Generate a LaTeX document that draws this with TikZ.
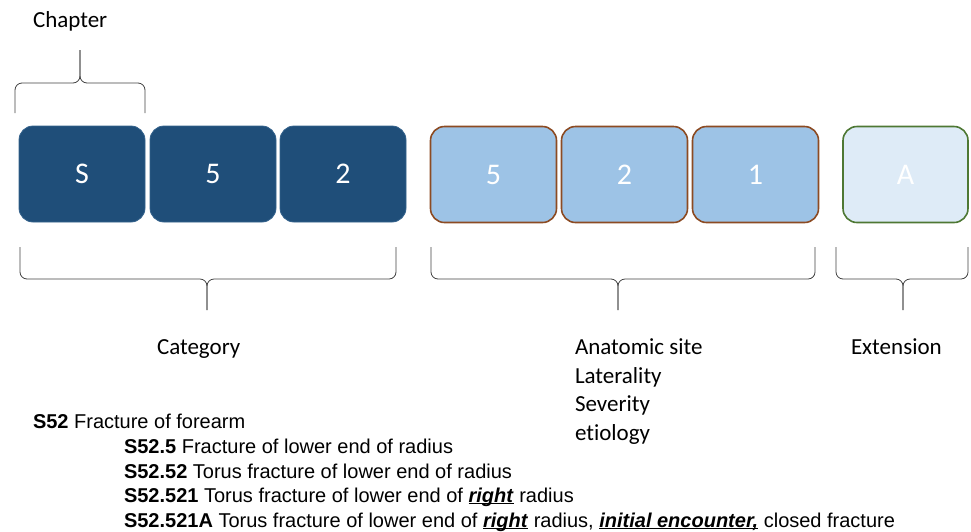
\documentclass[tikz,border=0pt]{standalone}
\usepackage{fontspec}
\setmainfont{Carlito}[Ligatures=NoCommon]
\newfontfamily\arialfont{Liberation Sans}
\usetikzlibrary{positioning}
\definecolor{chapfill}{RGB}{31,78,121}
\definecolor{chapline}{RGB}{52,98,140}
\definecolor{sitefill}{RGB}{157,195,230}
\definecolor{siteline}{RGB}{140,75,35}
\definecolor{extfill}{RGB}{222,235,247}
\definecolor{extline}{RGB}{78,120,52}
\definecolor{bracegray}{RGB}{64,64,64}
\newcommand{\hl}[1]{\underline{\smash{\textbf{\textit{#1}}}}}

\begin{document}
\begin{tikzpicture}[
  x=1pt, y=-1pt,
  every node/.style={inner sep=0pt, outer sep=0pt},
  codebox/.style={rectangle, rounded corners=14pt, minimum width=126pt,
    minimum height=96pt, font=\fontsize{30}{36}\selectfont, text=white},
  chapbox/.style={codebox, fill=chapfill, draw=chapline, line width=0.8pt},
  sitebox/.style={codebox, fill=sitefill, draw=siteline, line width=1.6pt},
  extbox/.style={codebox, fill=extfill, draw=extline, line width=1.6pt},
  label/.style={anchor=base west, font=\fontsize{23}{28}\selectfont},
  code/.style={anchor=base west, font=\arialfont\fontsize{20}{24}\selectfont},
  brace/.style={draw=bracegray, line width=0.8pt, rounded corners=7pt}
]
\useasboundingbox (0,0) rectangle (971,531);

% code characters
\node[chapbox] (s) at (82,174) {S};
\node[chapbox, right=5pt of s] (c5) {5};
\node[chapbox, right=4pt of c5] (c2) {2};
\node[sitebox] (s5) at (493.5,174.5) {5};
\node[sitebox, right=5pt of s5] (s2) {2};
\node[sitebox, right=5pt of s2] (s1) {1};
\node[extbox, minimum width=125pt] (ext) at (905.5,174.5) {A};

% braces
\coordinate (chaptip) at (80,50);
\draw[brace] (15,113) -- (15,83) -- (80,83) -- (chaptip);
\draw[brace] (145,113) -- (145,83) -- (80,83) -- (chaptip);
\coordinate (cattip) at (207,310);
\draw[brace] (20,247) -- (20,279) -- (207,279) -- (cattip);
\draw[brace] (396,247) -- (396,279) -- (207,279) -- (cattip);
\coordinate (sitetip) at (618,310);
\draw[brace] (431,247) -- (431,279) -- (618,279) -- (sitetip);
\draw[brace] (815,247) -- (815,279) -- (618,279) -- (sitetip);
\coordinate (exttip) at (903,310);
\draw[brace] (836,247) -- (836,279) -- (903,279) -- (exttip);
\draw[brace] (968,247) -- (968,279) -- (903,279) -- (exttip);

% labels
\node[label] (chapter) at (33,27) {Chapter};
\node[label] (category) at (157,354) {Category};
\node[label] (site) at (575,354) {Anatomic site};
\node[label] (lat) at (575,383) {Laterality};
\node[label] (sev) at (575,411) {Severity};
\node[label] (etio) at (575,440) {etiology};
\node[label] (extension) at (851,354) {Extension};

% example codes
\node[code] (k1) at (33,428) {\textbf{S52} Fracture of forearm};
\node[code] (k2) at (124,453) {\textbf{S52.5} Fracture of lower end of radius};
\node[code] (k3) at (124,478) {\textbf{S52.52} Torus fracture of lower end of radius};
\node[code] (k4) at (124,502) {\textbf{S52.521} Torus fracture of lower end of \hl{right} radius};
\node[code] (k5) at (124,527) {\textbf{S52.521A} Torus fracture of lower end of \hl{right} radius, \hl{initial encounter,} closed fracture};
\end{tikzpicture}
\end{document}
